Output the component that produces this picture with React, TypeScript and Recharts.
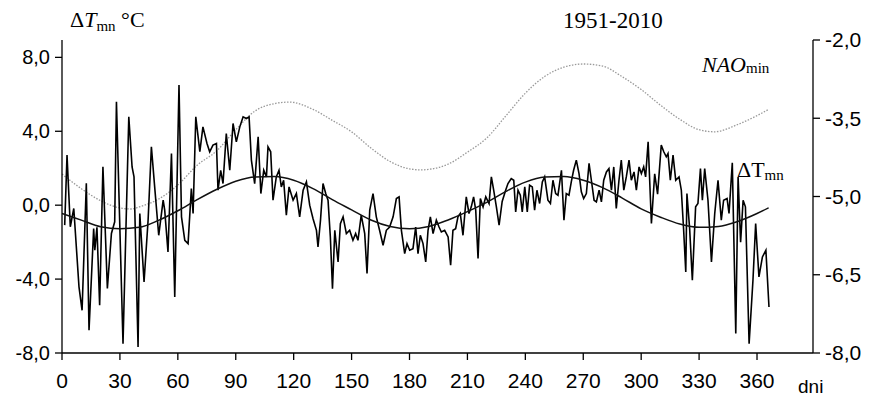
import { ComposedChart, Line, XAxis, YAxis } from "recharts"

// day-of-year axis
const dayTicks = [0, 30, 60, 90, 120, 150, 180, 210, 240, 270, 300, 330, 360]
const leftTicks = [-8, -4, 0, 4, 8]
const rightTicks = [-8, -6.5, -5, -3.5, -2]

// daily ΔTmn (vertices)
const dailyDays = [
  1.4, 2.6, 4.3, 6.1, 8.8, 10.4, 12.6, 14.0, 16.4, 17.0, 18.1, 19.5, 21.2, 23.5, 25.6, 27.3, 28.2,
  31.6, 34.6, 36.3, 37.3, 39.4, 40.3, 42.5, 44.6, 46.3, 48.0, 50.1, 52.4, 53.2, 54.9, 56.7, 58.4,
  60.6, 61.9, 63.6, 65.3, 67.0, 67.9, 69.3, 71.4, 73.0, 75.1, 76.5, 78.2, 80.0, 80.8, 82.2, 83.4,
  85.1, 86.9, 88.6, 90.3, 92.1, 93.8, 95.5, 96.9, 98.1, 99.8, 101.6, 103.0, 104.5, 105.9, 106.7,
  108.1, 109.3, 111.0, 112.4, 113.6, 114.8, 116.2, 117.6, 119.7, 121.4, 123.1, 124.9, 126.6, 128.3,
  130.0, 131.8, 132.6, 133.9, 135.2, 136.6, 137.8, 139.0, 140.1, 141.3, 143.0, 144.2, 145.6, 147.3,
  149.0, 150.7, 152.1, 153.3, 155.0, 156.8, 158.0, 159.4, 161.1, 162.8, 164.5, 166.3, 168.0, 169.7,
  171.5, 173.2, 174.6, 175.8, 177.5, 178.7, 180.1, 181.8, 183.2, 184.4, 185.6, 187.0, 188.4, 189.6,
  190.8, 192.2, 193.9, 195.3, 196.5, 198.2, 200.0, 201.3, 202.5, 203.9, 205.1, 206.3, 207.7, 209.4,
  210.8, 212.0, 213.2, 214.3, 215.5, 216.7, 218.1, 219.5, 221.2, 222.4, 223.6, 225.0, 226.4, 228.0,
  229.8, 231.0, 232.7, 234.0, 235.0, 236.2, 237.4, 238.4, 239.7, 241.0, 242.2, 243.6, 244.8, 246.0,
  247.4, 248.8, 250.0, 251.7, 253.0, 254.3, 255.7, 256.9, 258.7, 260.0, 261.2, 262.6, 263.8, 265.0,
  266.4, 267.8, 269.0, 270.2, 271.6, 273.0, 274.2, 275.6, 276.8, 278.2, 279.4, 280.6, 282.0, 283.3,
  284.6, 285.8, 287.1, 288.5, 289.7, 291.0, 292.3, 293.7, 294.9, 296.3, 297.5, 298.9, 300.1, 301.3,
  302.3, 303.6, 305.3, 307.0, 308.5, 310.4, 311.7, 313.0, 313.9, 315.1, 316.5, 317.9, 319.6, 320.8,
  322.0, 323.1, 323.7, 325.1, 326.5, 328.2, 329.4, 330.7, 331.7, 332.9, 334.6, 336.4, 338.1, 339.8,
  341.5, 342.7, 344.5, 345.5, 347.2, 349.0, 350.2, 351.5, 352.8, 354.0, 355.9, 357.9, 359.3, 361.0,
  362.8, 364.6, 366.2,
]
const dailyTmn = [
  -1.08, 2.71, -1.17, -0.18, -4.42, -5.69, 1.18, -6.77, -1.26, -2.44, -1.2, -5.42, 2.08, -4.51, -1.53, -0.9, 5.6,
  -7.5, 4.78, 2.07, 1.53, -7.67, -0.45, -4.15, -0.81, 3.16, 0.99, -1.63, 0.27, -0.27, -2.53, 2.8, -4.97,
  6.5, -0.63, -1.9, -2.08, 0.9, -0.45, 4.78, 2.9, 4.24, 3.34, 2.89, 3.25, 3.34, 0.81, 1.89, 1.17,
  3.88, 1.89, 4.42, 3.43, 4.24, 4.78, 4.69, 4.78, 2.44, 1.17, 3.7, 0.63, 1.89, 1.53, 3.16,
  2.89, 0.27, 1.53, 1.89, 0.99, 1.35, -0.54, 0.99, 0.27, 0.63, -0.63, 0.81, 1.26, 0.0,
  -0.72, -1.36, -2.26, -0.81, 1.17, 0.63, 0.27, -1.72, -4.52, -1.36, -3.07, -1.0, -0.63, -1.54,
  -1.36, -1.9, -1.54, -1.9, -0.54, -1.54, -3.7, -0.27, 0.63, -0.63, -1.36, -2.17, -1.36, -1.18,
  -0.63, 0.36, 0.45, -1.36, -2.62, -2.08, -2.44, -2.35, -1.18, -2.62, -1.63, -2.08, -3.07, -1.36,
  -0.63, -1.54, -0.81, -1.18, -1.45, -1.36, -1.72, -3.25, -1.36, -1.27, -0.63, -0.45, -1.63, 0.45,
  -0.45, -0.09, 0.45, -0.27, -2.89, 0.36, -0.09, 0.45, 0.09, 1.53, 0.81, -0.09, -1.08, 0.2,
  0.81, 1.17, 1.44, 1.35, -0.36, 0.81, 0.54, -0.36, 0.99, -0.36, 1.08, 0.99, -0.27, 0.81,
  0.09, 1.26, 1.53, 0.27, 0.09, 1.35, 0.63, 0.54, 1.89, -0.81, 0.63, 0.54, 1.26, 1.89,
  2.44, 1.71, 0.72, 0.36, 0.63, 2.26, 1.35, 0.27, 0.18, 0.81, 0.18, 1.35, 1.8, 1.98,
  0.81, 2.07, -0.18, 1.35, 2.44, 0.81, 1.53, 2.44, 1.35, 1.8, 0.81, 2.07, 1.71, 2.07,
  1.53, 3.43, -0.99, 1.7, 0.6, 3.25, 2.89, 2.62, 2.8, 1.35, 2.71, 1.35, 1.53, 0.81,
  -1.36, -3.61, 0.63, -1.27, -4.06, -0.09, 0.09, 1.98, 0.27, 1.98, 0.27, -3.07, -0.45, 1.35,
  -0.81, 0.27, 0.36, -0.45, 2.3, -6.95, 1.53, -2.0, 0.27, -0.09, -7.5, -4.06, -1.0, -3.88,
  -2.8, -2.44, -5.51,
]

// smoothed ΔTmn
const fitDays = [0, 10, 20, 30, 40, 50, 60, 70, 80, 90, 100, 110, 120, 130, 140, 150, 160, 170, 180, 190, 200, 210, 220, 230, 240, 250, 260, 270, 280, 290, 300, 310, 320, 330, 340, 350, 360, 366]
const fitTmn = [-0.45, -0.81, -1.17, -1.28, -1.2, -0.82, -0.3, 0.3, 0.85, 1.3, 1.53, 1.55, 1.35, 0.9, 0.3, -0.25, -0.8, -1.15, -1.27, -1.15, -0.8, -0.35, 0.15, 0.75, 1.25, 1.52, 1.55, 1.35, 0.95, 0.4, -0.2, -0.65, -1.02, -1.2, -1.15, -0.88, -0.45, -0.14]

// NAO min (right axis)
const naoDays = [0, 10, 20, 30, 36, 40, 50, 60, 70, 80, 90, 100, 110, 118, 130, 140, 150, 160, 170, 180, 186, 190, 200, 210, 220, 230, 240, 250, 260, 270, 280, 290, 300, 310, 320, 330, 338, 350, 360, 366]
const naoMin = [-4.57, -4.85, -5.08, -5.22, -5.24, -5.2, -5.05, -4.78, -4.4, -4.13, -3.72, -3.36, -3.22, -3.19, -3.33, -3.54, -3.76, -4.07, -4.33, -4.47, -4.49, -4.48, -4.38, -4.15, -3.88, -3.45, -3.02, -2.7, -2.52, -2.46, -2.5, -2.7, -2.95, -3.25, -3.52, -3.72, -3.76, -3.62, -3.45, -3.33]

const dailyRows = dailyDays.map((d, i) => ({ day: d, t: dailyTmn[i] }))
const fitRows = fitDays.map((d, i) => ({ day: d, fit: fitTmn[i] }))
const naoRows = naoDays.map((d, i) => ({ day: d, nao: naoMin[i] }))

const fmt = (v: number) => v.toFixed(1).replace(".", ",")
const sans = "Liberation Sans, Arial, sans-serif"
const serif = "Liberation Serif, Times New Roman, serif"

export default function App() {
  return (
    <div style={{ position: "absolute", left: 0, top: 0, width: 873, height: 397, background: "#fff" }}>
      <ComposedChart width={873} height={397} margin={{ top: 40, right: 0, bottom: 0, left: 0 }}>
        <XAxis
          type="number"
          dataKey="day"
          domain={[0, 389]}
          ticks={dayTicks}
          allowDataOverflow
          height={44}
          tickSize={7}
          tickMargin={13}
          axisLine={{ stroke: "#000", strokeWidth: 1.3 }}
          tickLine={{ stroke: "#000", strokeWidth: 1.3 }}
          tick={{ fill: "#000", fontSize: 21, fontFamily: sans }}
        />
        <YAxis
          yAxisId="left"
          domain={[-8, 8.94]}
          ticks={leftTicks}
          allowDataOverflow
          width={62}
          tickSize={7}
          tickMargin={5}
          tickFormatter={fmt}
          axisLine={{ stroke: "#000", strokeWidth: 1.3 }}
          tickLine={{ stroke: "#000", strokeWidth: 1.3 }}
          tick={{ fill: "#000", fontSize: 20, fontFamily: sans }}
        />
        <YAxis
          yAxisId="right"
          orientation="right"
          domain={[-8, -2]}
          ticks={rightTicks}
          allowDataOverflow
          width={60}
          tickSize={7}
          tickMargin={5}
          tickFormatter={fmt}
          axisLine={{ stroke: "#000", strokeWidth: 1.3 }}
          tickLine={{ stroke: "#000", strokeWidth: 1.3 }}
          tick={{ fill: "#000", fontSize: 21, fontFamily: sans }}
        />
        <Line
          yAxisId="right"
          data={naoRows}
          dataKey="nao"
          type="monotone"
          stroke="#9a9a9a"
          strokeWidth={1.3}
          strokeDasharray="1.5 1.5"
          dot={false}
          isAnimationActive={false}
        />
        <Line
          yAxisId="left"
          data={dailyRows}
          dataKey="t"
          type="linear"
          stroke="#000"
          strokeWidth={1.6}
          dot={false}
          isAnimationActive={false}
        />
        <Line
          yAxisId="left"
          data={fitRows}
          dataKey="fit"
          type="monotone"
          stroke="#111"
          strokeWidth={1.5}
          dot={false}
          isAnimationActive={false}
        />
      </ComposedChart>
      <svg width={873} height={397} style={{ position: "absolute", left: 0, top: 0, pointerEvents: "none" }}>
        <text x={70} y={27} fontFamily={serif} fontSize={22} fill="#000">
          Δ<tspan fontStyle="italic">T</tspan>
          <tspan fontSize={15} dy={4}>mn</tspan>
          <tspan dy={-4}> °C</tspan>
        </text>
        <text x={563} y={28} fontFamily={serif} fontSize={23} fill="#000">1951-2010</text>
        <text x={702} y={72} fontFamily={serif} fontSize={22} fill="#000">
          <tspan fontStyle="italic">NAO</tspan>
          <tspan fontSize={15} dy={1}>min</tspan>
        </text>
        <text x={737} y={177} fontFamily={serif} fontSize={22} fill="#000">
          ΔT<tspan fontSize={15} dy={3}>mn</tspan>
        </text>
        <text x={798} y={393} fontFamily={sans} fontSize={19} fill="#000">dni</text>
      </svg>
    </div>
  )
}
